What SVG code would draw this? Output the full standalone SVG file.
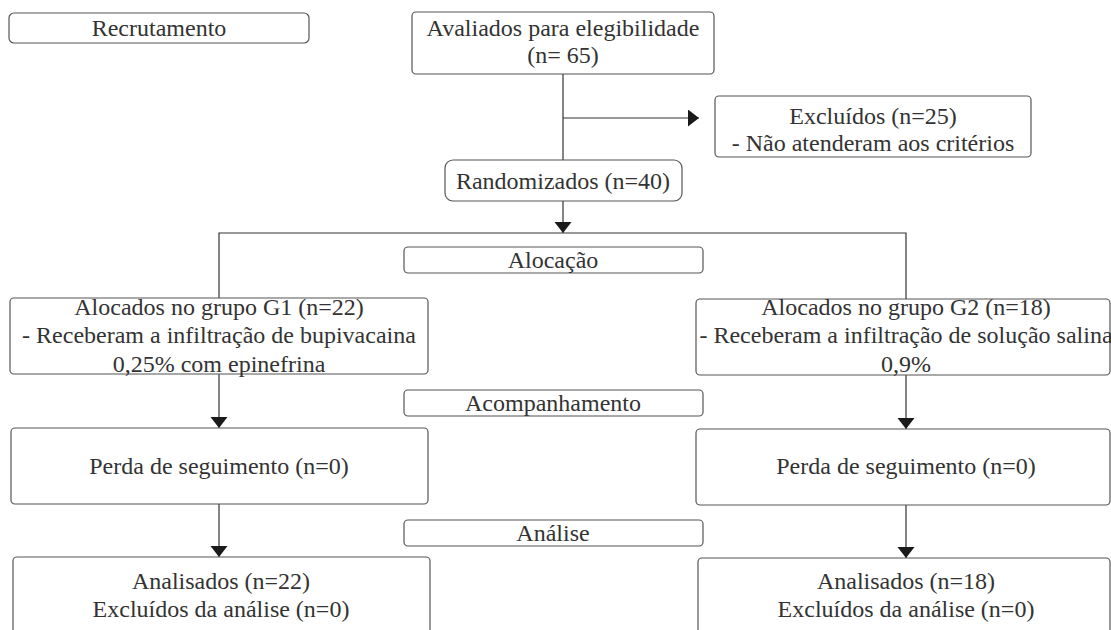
<svg xmlns="http://www.w3.org/2000/svg" width="1111" height="630" viewBox="0 0 1111 630">
<defs>
<style>
.b{fill:#fff;stroke:#555;stroke-width:1.2}
.t{font-family:"Liberation Serif","Times New Roman",serif;font-size:24px;fill:#333;text-anchor:middle}
.c{fill:none;stroke:#333;stroke-width:1.2}
</style>
<marker id="ah" markerWidth="12" markerHeight="18" refX="11" refY="8.5" orient="auto" markerUnits="userSpaceOnUse">
<path d="M0,0 L11,8.5 L0,17 Z" fill="#1a1a1a"/>
</marker>
</defs>
<rect width="1111" height="630" fill="#fff"/>
<g id="connectors">
<path class="c" d="M563,74 V160"/>
<path class="c" d="M563,118 H699" marker-end="url(#ah)"/>
<path class="c" d="M563,201 V233" marker-end="url(#ah)"/>
<path class="c" d="M219,298 V233 H906 V299"/>
<path class="c" d="M219,374 V428" marker-end="url(#ah)"/>
<path class="c" d="M906,375 V429" marker-end="url(#ah)"/>
<path class="c" d="M219,504 V557" marker-end="url(#ah)"/>
<path class="c" d="M906,505 V558" marker-end="url(#ah)"/>
</g>
<g id="recrutamento"><rect class="b" x="9" y="13" width="300" height="30" rx="5"/><text class="t" x="159" y="36">Recrutamento</text></g>
<g id="avaliados"><rect class="b" x="412" y="12" width="302" height="62" rx="4"/><text class="t" x="563" y="36">Avaliados para elegibilidade</text><text class="t" x="563" y="63">(n= 65)</text></g>
<g id="excluidos"><rect class="b" x="715" y="96" width="316" height="61" rx="4"/><text class="t" x="873" y="124">Excluídos (n=25)</text><text class="t" x="873" y="151">- Não atenderam aos critérios</text></g>
<g id="randomizados"><rect class="b" x="445" y="160" width="237" height="41" rx="8"/><text class="t" x="563" y="189">Randomizados (n=40)</text></g>
<g id="alocacao"><rect class="b" x="404" y="247" width="299" height="26" rx="4"/><text class="t" x="553" y="268">Alocação</text></g>
<g id="g1"><rect class="b" x="10" y="298" width="418" height="76" rx="4"/><text class="t" x="219" y="315">Alocados no grupo G1 (n=22)</text><text class="t" x="219" y="343">- Receberam a infiltração de bupivacaina</text><text class="t" x="219" y="372">0,25% com epinefrina</text></g>
<g id="g2"><rect class="b" x="696" y="299" width="414" height="76" rx="4"/><text class="t" x="906" y="315">Alocados no grupo G2 (n=18)</text><text class="t" x="906" y="343">- Receberam a infiltração de solução salina</text><text class="t" x="906" y="372">0,9%</text></g>
<g id="acompanhamento"><rect class="b" x="404" y="390" width="299" height="26" rx="4"/><text class="t" x="553" y="411">Acompanhamento</text></g>
<g id="perda1"><rect class="b" x="11" y="428" width="417" height="76" rx="4"/><text class="t" x="219" y="474">Perda de seguimento (n=0)</text></g>
<g id="perda2"><rect class="b" x="696" y="429" width="414" height="76" rx="4"/><text class="t" x="906" y="474">Perda de seguimento (n=0)</text></g>
<g id="analise"><rect class="b" x="404" y="520" width="299" height="26" rx="4"/><text class="t" x="553" y="541">Análise</text></g>
<g id="analisados1"><rect class="b" x="13" y="557" width="417" height="80" rx="4"/><text class="t" x="221" y="589">Analisados (n=22)</text><text class="t" x="221" y="617">Excluídos da análise (n=0)</text></g>
<g id="analisados2"><rect class="b" x="698" y="558" width="412" height="80" rx="4"/><text class="t" x="906" y="589">Analisados (n=18)</text><text class="t" x="906" y="617">Excluídos da análise (n=0)</text></g>
</svg>
